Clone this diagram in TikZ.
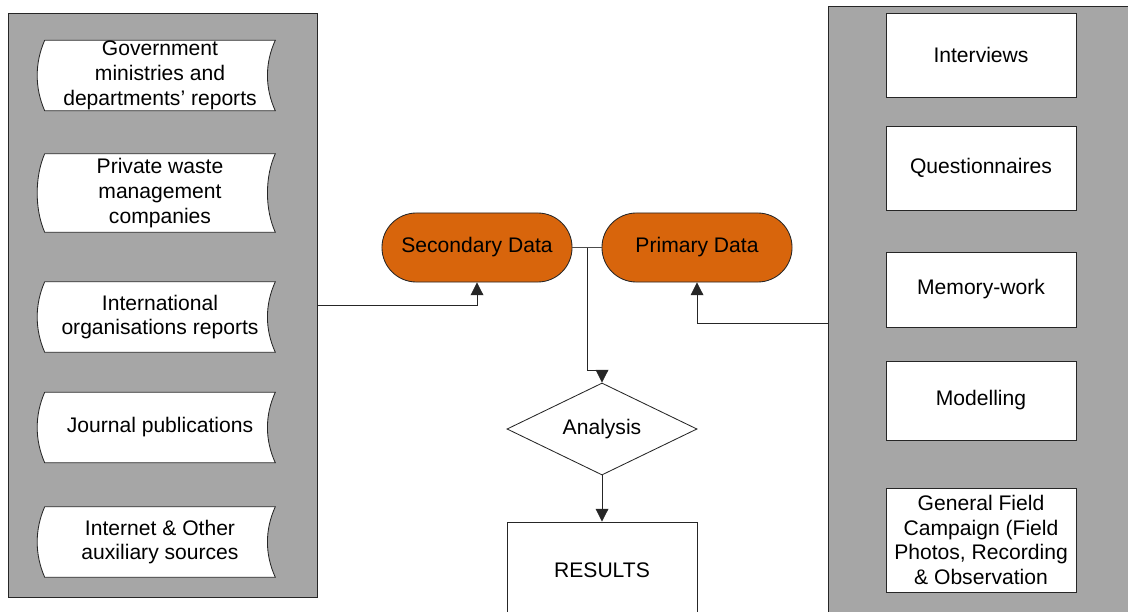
\documentclass[tikz,border=0pt]{standalone}
\usepackage{fontspec}
\setmainfont{Liberation Sans}
\usetikzlibrary{arrows.meta, shapes.geometric, backgrounds}
\definecolor{deeporange}{RGB}{216,101,12}
\definecolor{panelgray}{RGB}{166,166,166}

\begin{document}
\begin{tikzpicture}[
  x=0.025cm, y=-0.025cm,
  >={Triangle[width=3.2mm,length=3.2mm]},
  every node/.style={font=\fontsize{15}{17.7}\selectfont},
  src/.style={minimum width=5.75cm, minimum height=1.75cm, inner sep=0pt, align=center},
  meth/.style={draw=black!85, fill=white, line width=0.6pt, minimum width=4.75cm, inner sep=0pt, align=center},
  pill/.style={draw=black!85, fill=deeporange, line width=0.6pt, rounded corners=0.86cm,
               minimum width=4.75cm, minimum height=1.725cm},
  dec/.style={draw=black!85, fill=white, line width=0.6pt, diamond, aspect=2,
              minimum width=4.75cm, minimum height=2.3cm, inner sep=0pt},
  panel/.style={draw=black!85, fill=panelgray, line width=0.6pt, inner sep=0pt},
  ed/.style={->, line width=0.6pt, black!85},
  ln/.style={line width=0.6pt, black!70}
]
\useasboundingbox (0,0) rectangle (1128,611);
% secondary sources
\node[src] (s1) at (160,75.5) {Government\\ministries and\\departments' reports};
\node[src, minimum height=1.95cm] (s2) at (160,193) {Private waste\\management\\companies};
\node[src] (s3) at (160,317) {International\\organisations reports};
\node[src] (s4) at (160,427.5) {Journal publications};
\node[src] (s5) at (160,542) {Internet \& Other\\auxiliary sources};
% primary methods
\node[meth, minimum height=2.1cm] (m1) at (981,55) {Interviews};
\node[meth, minimum height=2.1cm] (m2) at (981,168) {Questionnaires};
\node[meth, minimum height=1.875cm] (m3) at (981,289.5) {Memory-work};
\node[meth, minimum height=1.975cm] (m4) at (981,400.5) {Modelling};
\node[meth, minimum height=2.6cm] (m5) at (981,540)
  {General Field\\Campaign (Field\\Photos, Recording\\\& Observation};
\begin{scope}[on background layer]
  \node[panel, minimum width=7.725cm, minimum height=14.6cm] (left) at (162.5,305) {};
  \node[panel, minimum width=7.8cm, minimum height=15.8cm] (right) at (984,323) {};
  \foreach \n in {s1,s2,s3,s4,s5}
    \draw[draw=black!85, fill=white, line width=0.6pt] (\n.north west) -- (\n.north east)
      .. controls +(-10.5,23) and +(-10.5,-23) .. (\n.south east) -- (\n.south west)
      .. controls +(-10,-23) and +(-10,23) .. (\n.north west);
\end{scope}
% flow
\node[pill] (sec) at (477,247.5) {Secondary Data};
\node[pill] (pri) at (697,247.5) {Primary Data};
\coordinate (j) at (587,247.5);
\coordinate (bend) at (587,370);
\node[dec] (ana) at (602,429) {Analysis};
\node[meth, minimum height=2.4cm] (res) at (602,570) {RESULTS};
\draw[ln] (sec) -- (pri);
\draw[ed] (j) -- (bend) -| (ana.north);
\draw[ed] (ana) -- (res);
\draw[ed] (left.east) -| (sec.south);
\draw[ed] (right.west) -| (pri.south);
\end{tikzpicture}
\end{document}
